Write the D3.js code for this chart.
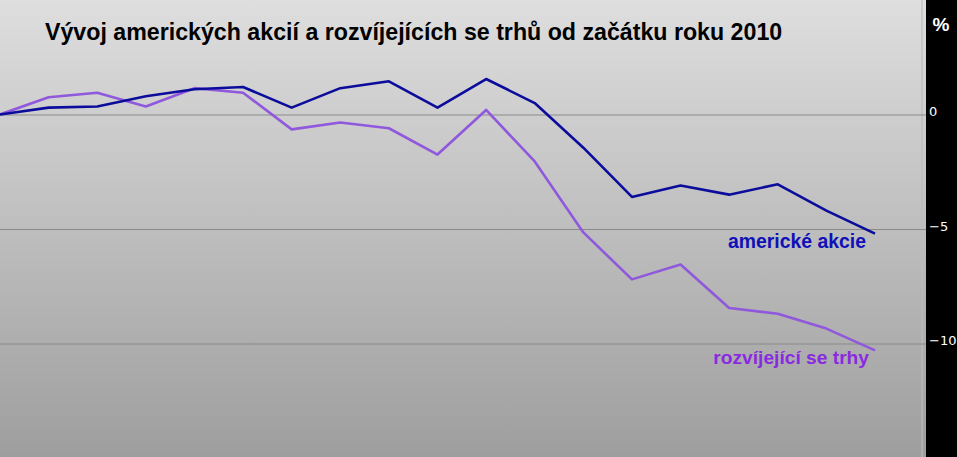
<!DOCTYPE html>
<html><head><meta charset="utf-8">
<script src="https://cdn.jsdelivr.net/npm/d3@7"></script>
<style>html,body{margin:0;padding:0;background:#000;overflow:hidden}</style>
</head><body>
<script>
const title = "Vývoj amerických akcií a rozvíjejících se trhů od začátku roku 2010";
const periods = d3.range(19);
const usStocks = [0, 0.3, 0.35, 0.8, 1.1, 1.2, 0.3, 1.15, 1.45, 0.3, 1.55, 0.5, -1.45, -3.6, -3.1, -3.5, -3.05, -4.2, -5.2];
const emerging = [0, 0.75, 0.95, 0.35, 1.15, 0.95, -0.65, -0.35, -0.6, -1.75, 0.2, -2.05, -5.15, -7.2, -6.55, -8.45, -8.7, -9.35, -10.3];
const yTicks = [0, -5, -10];
const seriesLabels = ["americké akcie", "rozvíjející se trhy"];

const W = 957, H = 457, plotRight = 926;
const svg = d3.select("body").append("svg").attr("width", W).attr("height", H);
const defs = svg.append("defs");
const g = defs.append("linearGradient").attr("id","bg").attr("x1",0).attr("y1",0).attr("x2",0).attr("y2",1);
g.append("stop").attr("offset","0%").attr("stop-color","#dedede");
g.append("stop").attr("offset","100%").attr("stop-color","#9e9e9e");

svg.append("rect").attr("width",W).attr("height",H).attr("fill","#000");
svg.append("rect").attr("x",0).attr("y",0).attr("width",plotRight).attr("height",H).attr("fill","url(#bg)");
svg.append("line").attr("x1",plotRight-4).attr("x2",plotRight-4).attr("y1",0).attr("y2",H)
  .attr("stroke","#bdbdbd").attr("stroke-width",2).attr("opacity",0.6);

const x = d3.scaleLinear().domain([0, 18]).range([0, 875]);
const y = d3.scaleLinear().domain([5, -15]).range([0, 458]);

svg.append("g").selectAll("line").data(yTicks).join("line")
  .attr("x1",0).attr("x2",plotRight).attr("y1",d=>y(d)+0.5).attr("y2",d=>y(d)+0.5)
  .attr("stroke","#8a8a8a").attr("stroke-width",1);

const axis = d3.axisRight(y).tickValues(yTicks).tickSize(0).tickPadding(3);
const ax = svg.append("g").attr("transform",`translate(${plotRight},0)`).call(axis);
ax.select(".domain").remove();
ax.selectAll("text").attr("fill","#fff").attr("font-family","Verdana, DejaVu Sans, sans-serif")
  .attr("font-size",13).attr("dy","0.1em");

svg.append("text").attr("x",941).attr("y",31).attr("text-anchor","middle")
  .attr("fill","#fff").attr("font-family","Arial, Liberation Sans, sans-serif").attr("font-weight","bold").attr("font-size",19).text("%");

const line = d3.line().x((d,i)=>x(periods[i])).y(d=>y(d));
svg.append("path").datum(emerging).attr("d",line).attr("fill","none")
  .attr("stroke","#9058dc").attr("stroke-width",2.6).attr("stroke-linejoin","round");
svg.append("path").datum(usStocks).attr("d",line).attr("fill","none")
  .attr("stroke","#0c0c9c").attr("stroke-width",2.6).attr("stroke-linejoin","round");

svg.append("text").attr("x",45).attr("y",40)
  .attr("font-family","Arial, Liberation Sans, sans-serif").attr("font-weight","bold").attr("font-size",23.2)
  .attr("fill","#000").text(title);

svg.append("text").attr("x",866).attr("y",248).attr("text-anchor","end")
  .attr("font-family","Arial, Liberation Sans, sans-serif").attr("font-weight","bold").attr("font-size",19.4)
  .attr("fill","#1010b8").text(seriesLabels[0]);
svg.append("text").attr("x",869).attr("y",364).attr("text-anchor","end")
  .attr("font-family","Arial, Liberation Sans, sans-serif").attr("font-weight","bold").attr("font-size",19.2)
  .attr("fill","#8a2ae0").text(seriesLabels[1]);
</script>
</body></html>
